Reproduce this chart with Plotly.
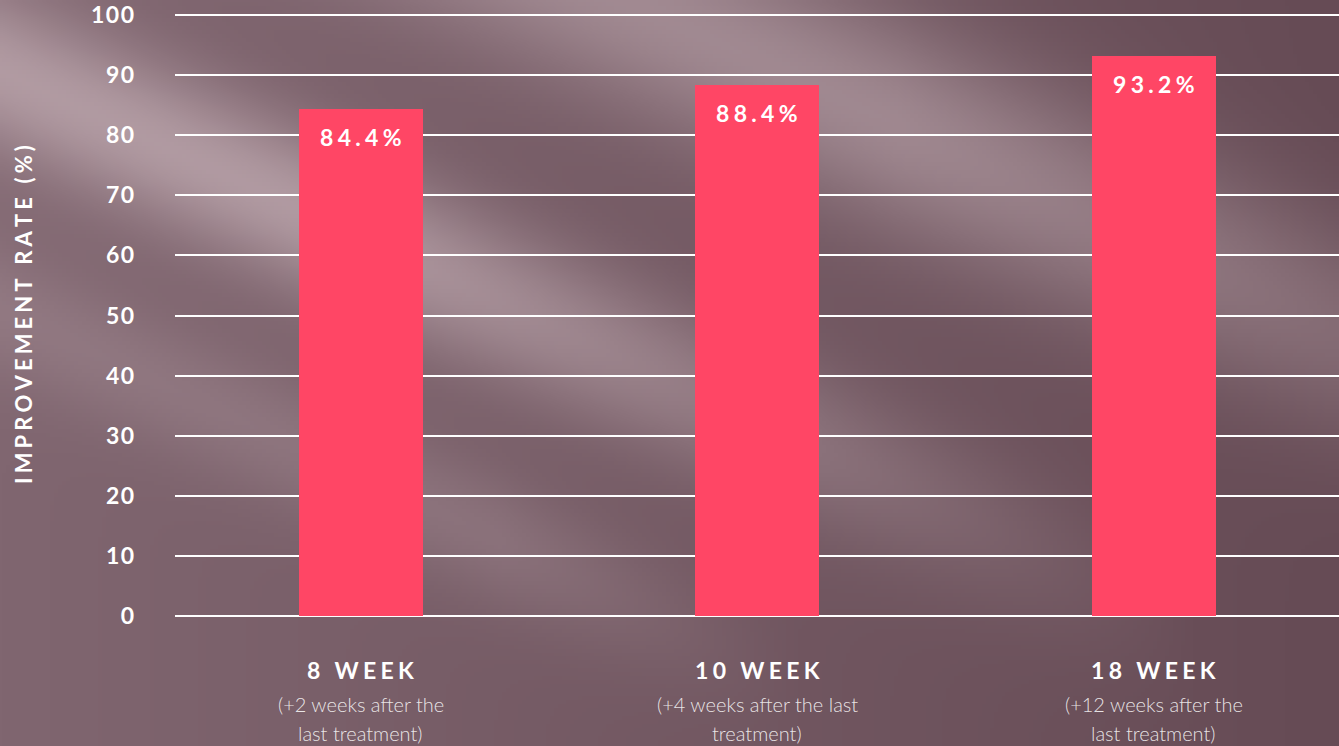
import base64
import struct
import zlib

import numpy as np
import plotly.graph_objects as go

# ---------------- data ----------------
categories = ["8 WEEK", "10 WEEK", "18 WEEK"]
subtitle_line1 = ["(+2 weeks after the", "(+4 weeks after the last", "(+12 weeks after the"]
subtitle_line2 = ["last treatment)", "treatment)", "last treatment)"]
improvement = [84.4, 88.4, 93.2]
value_labels = ["84.4%", "88.4%", "93.2%"]
y_ticks = [0, 10, 20, 30, 40, 50, 60, 70, 80, 90, 100]
y_title = "IMPROVEMENT RATE (%)"

# ---------------- figure geometry ----------------
W, H = 1339, 746
ML, MR, MT, MB = 175, 0, 10, 130
PLOT_W = W - ML - MR
PLOT_H = H - MT - MB
PX_PER_UNIT = 6.01
Y_TOP = PLOT_H / PX_PER_UNIT

THIN = "\u2009"
HAIR = "\u200a"


def spaced(s, sep):
    return sep.join(list(s))


def py_to_paper(py):
    return (H - MB - py) / PLOT_H


# ---------------- background texture (soft diagonal light streaks) ----------------
def make_background():
    w, h = 335, 187
    xs = np.linspace(0, W, w)
    ys = np.linspace(0, H, h)
    X, Y = np.meshgrid(xs, ys)
    left = np.array([0x80, 0x66, 0x70], float)
    right = np.array([0x66, 0x4B, 0x55], float)
    light = np.array([0xBA, 0xA4, 0xAB], float)
    t = (X / W)[..., None]
    base = left * (1 - t) + right * t
    u = Y - 0.46 * X
    ampA = 0.85 * np.clip(1 - (X - 300) / 900, 0.0, 1)
    wA = np.exp(-0.5 * ((u - 70) / 60) ** 2) * ampA
    ampB = 0.65 * np.clip(1 - (X - 900) / 1000, 0.45, 1)
    wB = np.exp(-0.5 * ((u + 290) / 80) ** 2) * ampB
    ampC = 0.3 * np.clip(1 - (X - 500) / 300, 0, 1)
    wC = np.exp(-0.5 * ((u - 310) / 50) ** 2) * ampC
    wgt = np.clip(wA + wB + wC, 0, 1)[..., None]
    img = base * (1 - wgt) + light * wgt
    img = np.clip(img, 0, 255).astype(np.uint8)

    raw = b"".join(b"\x00" + img[r].tobytes() for r in range(h))

    def chunk(tag, data):
        c = struct.pack(">I", len(data)) + tag + data
        return c + struct.pack(">I", zlib.crc32(tag + data) & 0xFFFFFFFF)

    png = b"\x89PNG\r\n\x1a\n"
    png += chunk(b"IHDR", struct.pack(">IIBBBBB", w, h, 8, 2, 0, 0, 0))
    png += chunk(b"IDAT", zlib.compress(raw, 9))
    png += chunk(b"IEND", b"")
    return "data:image/png;base64," + base64.b64encode(png).decode()


bg_uri = make_background()

# ---------------- bars ----------------
x_pos = list(range(len(categories)))
fig = go.Figure()
fig.add_trace(
    go.Bar(
        x=x_pos,
        y=improvement,
        width=0.313,
        marker=dict(color="#ff4665", line=dict(width=0)),
        hoverinfo="skip",
        showlegend=False,
    )
)

annotations = []
for i, (v, lab) in enumerate(zip(improvement, value_labels)):
    annotations.append(
        dict(
            x=i, y=v, xref="x", yref="y",
            text=spaced(lab, THIN + HAIR),
            showarrow=False, yanchor="middle", yshift=-28,
            font=dict(family="Lato", size=23, color="white", weight=700),
        )
    )
for i, cat in enumerate(categories):
    annotations.append(
        dict(
            x=i, y=py_to_paper(670), xref="x", yref="paper",
            text=spaced(cat, THIN + HAIR),
            showarrow=False, yanchor="middle",
            font=dict(family="Lato", size=23, color="white", weight=700),
        )
    )
    annotations.append(
        dict(
            x=i, y=py_to_paper(704), xref="x", yref="paper",
            text=subtitle_line1[i],
            showarrow=False, yanchor="middle",
            font=dict(family="Lato", size=20, color="rgba(255,255,255,0.85)", weight=300),
        )
    )
    annotations.append(
        dict(
            x=i, y=py_to_paper(733), xref="x", yref="paper",
            text=subtitle_line2[i],
            showarrow=False, yanchor="middle",
            font=dict(family="Lato", size=20, color="rgba(255,255,255,0.85)", weight=300),
        )
    )
annotations.append(
    dict(
        x=(24 - ML) / PLOT_W, y=py_to_paper(315), xref="paper", yref="paper",
        text=spaced(y_title, THIN + HAIR), textangle=-90,
        showarrow=False, xanchor="center", yanchor="middle",
        font=dict(family="Lato", size=22, color="white", weight=700),
    )
)

fig.update_layout(
    width=W,
    height=H,
    margin=dict(l=ML, r=MR, t=MT, b=MB, pad=0),
    paper_bgcolor="#775e68",
    plot_bgcolor="rgba(0,0,0,0)",
    bargap=0,
    annotations=annotations,
    images=[
        dict(
            source=bg_uri,
            xref="paper", yref="paper",
            x=-ML / PLOT_W, y=1 + MT / PLOT_H,
            sizex=W / PLOT_W, sizey=H / PLOT_H,
            xanchor="left", yanchor="top",
            sizing="stretch", layer="below",
        )
    ],
    xaxis=dict(
        range=[-0.469, 2.467],
        showgrid=False, zeroline=False, showticklabels=False, showline=False,
        fixedrange=True,
    ),
    yaxis=dict(
        range=[0, Y_TOP],
        tickvals=y_ticks,
        ticktext=[spaced(str(t), HAIR) for t in y_ticks],
        showgrid=True, gridcolor="white", gridwidth=2,
        zeroline=True, zerolinecolor="white", zerolinewidth=2,
        showline=False,
        ticklabelstandoff=40,
        tickfont=dict(family="Lato", size=23, color="white", weight=700),
        fixedrange=True,
    ),
)

fig.write_html(
    "out.html",
    config={"displayModeBar": False},
    post_script="document.body.style.margin='0';document.body.style.padding='0';document.body.style.overflow='hidden';",
)
